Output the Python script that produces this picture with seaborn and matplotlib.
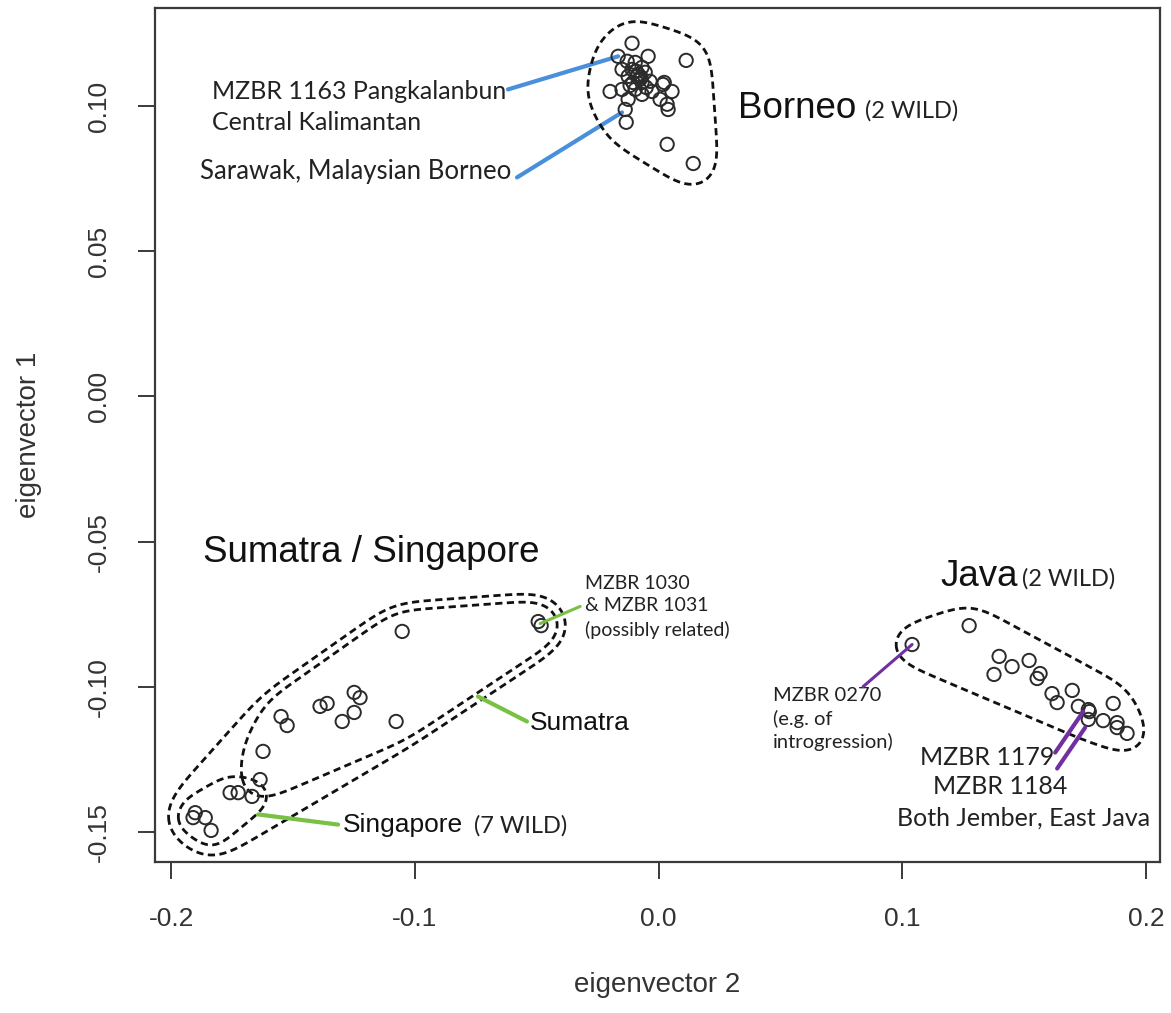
import numpy as np
import pandas as pd
import matplotlib
matplotlib.use("Agg")
import matplotlib.pyplot as plt
import seaborn as sns

# --- PCA scores (eigenvector 2 on x, eigenvector 1 on y) ---
borneo_ev2 = [-0.0109, -0.0166, -0.0129, -0.0096, -0.0043, 0.0113, -0.0150, -0.0109,
              -0.0068, -0.0125, -0.0088, -0.0055, -0.0105, -0.0068, -0.0035, -0.0199,
              -0.0150, -0.0096, -0.0027, 0.0023, 0.0018, 0.0055, -0.0125, -0.0068,
              0.0006, 0.0035, -0.0137, 0.0039, -0.0133, 0.0035, 0.0142, -0.0084,
              -0.0076, -0.0117, -0.0051, -0.0072, -0.0092]
borneo_ev1 = [0.1216, 0.1171, 0.1154, 0.1150, 0.1171, 0.1157, 0.1126, 0.1126,
              0.1133, 0.1102, 0.1102, 0.1116, 0.1081, 0.1081, 0.1085, 0.1050,
              0.1057, 0.1057, 0.1050, 0.1081, 0.1074, 0.1050, 0.1023, 0.1040,
              0.1023, 0.1006, 0.0988, 0.0988, 0.0944, 0.0868, 0.0802, 0.1109,
              0.1092, 0.1071, 0.1064, 0.1099, 0.1120]

sumatra_ev2 = [-0.1052, -0.1249, -0.1225, -0.1249, -0.1298, -0.1077, -0.1389,
               -0.1360, -0.1549, -0.1524, -0.1623, -0.1635, -0.0494, -0.0482]
sumatra_ev1 = [-0.0809, -0.1019, -0.1037, -0.1088, -0.1119, -0.1119, -0.1067,
               -0.1057, -0.1102, -0.1133, -0.1222, -0.1319, -0.0775, -0.0789]

singapore_ev2 = [-0.1758, -0.1725, -0.1668, -0.1901, -0.1910, -0.1860, -0.1836]
singapore_ev1 = [-0.1364, -0.1364, -0.1377, -0.1433, -0.1450, -0.1450, -0.1494]

java_ev2 = [0.1040, 0.1274, 0.1397, 0.1450, 0.1376, 0.1520, 0.1565, 0.1553, 0.1614,
            0.1635, 0.1697, 0.1722, 0.1763, 0.1767, 0.1763, 0.1824, 0.1865, 0.1881,
            0.1881, 0.1922]
java_ev1 = [-0.0854, -0.0789, -0.0895, -0.0930, -0.0957, -0.0909, -0.0954, -0.0971,
            -0.1023, -0.1054, -0.1012, -0.1067, -0.1078, -0.1085, -0.1112, -0.1116,
            -0.1057, -0.1123, -0.1140, -0.1160]

x_ticks = [-0.2, -0.1, 0.0, 0.1, 0.2]
x_ticklabels = ["-0.2", "-0.1", "0.0", "0.1", "0.2"]
y_ticks = [-0.15, -0.10, -0.05, 0.00, 0.05, 0.10]
y_ticklabels = ["-0.15", "-0.10", "-0.05", "0.00", "0.05", "0.10"]

df = pd.concat([
    pd.DataFrame({"ev2": borneo_ev2, "ev1": borneo_ev1, "group": "Borneo"}),
    pd.DataFrame({"ev2": sumatra_ev2, "ev1": sumatra_ev1, "group": "Sumatra"}),
    pd.DataFrame({"ev2": singapore_ev2, "ev1": singapore_ev1, "group": "Singapore"}),
    pd.DataFrame({"ev2": java_ev2, "ev1": java_ev1, "group": "Java"}),
], ignore_index=True)

sns.set_theme(style="white")
plt.rcParams["font.family"] = ["Liberation Sans", "DejaVu Sans"]

fig = plt.figure(figsize=(11.71, 10.13), dpi=100)
ax = fig.add_axes([0.1324, 0.149, 0.8582, 0.843])
ax.set_xlim(-0.2066, 0.2057)
ax.set_ylim(-0.1603, 0.1337)

sns.scatterplot(data=df, x="ev2", y="ev1", marker="o", s=92, color="#2b2b2b",
                edgecolor="#2b2b2b", linewidth=1.4, legend=False, ax=ax, zorder=3)
ax.collections[-1].set_facecolor("none")

# frame and axes in base-R style
for sp in ax.spines.values():
    sp.set_color("#3a3a3a")
    sp.set_linewidth(1.6)
ax.set_xticks(x_ticks)
ax.set_xticklabels(x_ticklabels)
ax.set_yticks(y_ticks)
ax.set_yticklabels(y_ticklabels, rotation=90, va="center")
ax.tick_params(axis="both", direction="out", length=12, width=1.4, color="#3a3a3a",
               labelsize=19, labelcolor="#333333", bottom=True, left=True)
ax.tick_params(axis="x", pad=20)
ax.tick_params(axis="y", pad=20)
ax.set_xlabel("eigenvector 2", fontsize=20, color="#333333", labelpad=30)
ax.set_ylabel("eigenvector 1", fontsize=20, color="#333333", labelpad=32)
ax.grid(False)


# dashed outlines: convex hull of a group, grown by a margin in screen pixels
# and rounded off with a circular moving average along the curve
def _hull(pts):
    pts = sorted(set(map(tuple, pts)))
    def cross(o, a, b):
        return (a[0] - o[0]) * (b[1] - o[1]) - (a[1] - o[1]) * (b[0] - o[0])
    lower, upper = [], []
    for p in pts:
        while len(lower) >= 2 and cross(lower[-2], lower[-1], p) <= 0:
            lower.pop()
        lower.append(p)
    for p in reversed(pts):
        while len(upper) >= 2 and cross(upper[-2], upper[-1], p) <= 0:
            upper.pop()
        upper.append(p)
    return np.array(lower[:-1] + upper[:-1])


def outline(xs, ys, margin_px, smooth_px=14):
    disp = ax.transData.transform(np.column_stack([xs, ys]))
    ang = np.linspace(0, 2 * np.pi, 90, endpoint=False)
    ring = np.column_stack([np.cos(ang), np.sin(ang)]) * margin_px
    cloud = (disp[:, None, :] + ring[None, :, :]).reshape(-1, 2)
    h = _hull(np.round(cloud, 3))
    closed = np.vstack([h, h[:1]])
    seglen = np.hypot(*np.diff(closed, axis=0).T)
    s = np.concatenate([[0], np.cumsum(seglen)])
    step = 1.0
    t = np.arange(0, s[-1], step)
    px = np.interp(t, s, closed[:, 0])
    py = np.interp(t, s, closed[:, 1])
    n = len(t)
    sigma = smooth_px / step
    k = np.arange(-int(3 * sigma), int(3 * sigma) + 1)
    w = np.exp(-0.5 * (k / sigma) ** 2)
    w /= w.sum()
    idx = (np.arange(n)[:, None] + k[None, :]) % n
    sx = (px[idx] * w).sum(axis=1)
    sy = (py[idx] * w).sum(axis=1)
    pts = np.column_stack([sx, sy])
    pts = np.vstack([pts, pts[:1]])
    d = ax.transData.inverted().transform(pts)
    ax.plot(d[:, 0], d[:, 1], color="#111111", lw=2.0,
            linestyle=(0, (2.6, 1.6)), zorder=2)


outline(borneo_ev2, borneo_ev1, 25, 16)
outline(java_ev2, java_ev1, 21, 16)
outline(sumatra_ev2, sumatra_ev1, 21, 16)
outline(singapore_ev2, singapore_ev1, 17, 10)
outline(sumatra_ev2 + singapore_ev2, sumatra_ev1 + singapore_ev1, 29, 18)

# region titles
big = dict(fontsize=26.5, color="#111111", va="center", ha="left")
ax.text(0.0326, 0.0990, "Borneo", **big)
ax.text(-0.1869, -0.0537, "Sumatra / Singapore", **big)
ax.text(0.1155, -0.0620, "Java", **big)

note = ["Lato", "DejaVu Sans"]
ax.text(0.0847, 0.0985, "(2 WILD)", fontsize=17, family=note, color="#222222", va="center")
ax.text(0.1490, -0.0628, "(2 WILD)", fontsize=17, family=note, color="#222222", va="center")

mid = dict(fontsize=19, color="#111111", va="center", ha="left")
ax.text(-0.0527, -0.1123, "Sumatra", **mid)
ax.text(-0.1294, -0.1477, "Singapore", **mid)
ax.text(-0.0757, -0.1477, "(7 WILD)", fontsize=17, family=note, color="#222222", va="center")

# sample call-outs
blue, green, purple = "#4a8fdb", "#79c143", "#7030a0"
seg = dict(arrowstyle="-", lw=3, shrinkA=0, shrinkB=0)

ax.text(-0.1832, 0.1050, "MZBR 1163 Pangkalanbun", fontsize=18, family=note,
        color="#222222", va="center")
ax.text(-0.1832, 0.0944, "Central Kalimantan", fontsize=18, family=note,
        color="#222222", va="center")
ax.text(-0.1881, 0.0775, "Sarawak, Malaysian Borneo", fontsize=18.5, family=note,
        color="#222222", va="center")
ax.annotate("", xy=(-0.0166, 0.1171), xytext=(-0.0618, 0.1057),
            arrowprops=dict(color=blue, **seg), zorder=1)
ax.annotate("", xy=(-0.0150, 0.0978), xytext=(-0.0581, 0.0754),
            arrowprops=dict(color=blue, **seg), zorder=1)

ax.text(-0.0302, -0.0724, "MZBR 1030\n& MZBR 1031\n(possibly related)", fontsize=14,
        family=note, color="#222222", va="center", linespacing=1.42)
ax.annotate("", xy=(-0.0486, -0.0782), xytext=(-0.0322, -0.0723),
            arrowprops=dict(color=green, **dict(seg, lw=2.2)), zorder=4)
ax.annotate("", xy=(-0.0741, -0.1033), xytext=(-0.0540, -0.1119),
            arrowprops=dict(color=green, **seg), zorder=4)
ax.annotate("", xy=(-0.1643, -0.1439), xytext=(-0.1315, -0.1474),
            arrowprops=dict(color=green, **seg), zorder=4)

ax.text(0.0470, -0.1112, "MZBR 0270\n(e.g. of\nintrogression)", fontsize=14.5,
        family=note, color="#222222", va="center", linespacing=1.36)
ax.annotate("", xy=(0.1040, -0.0854), xytext=(0.0839, -0.0999),
            arrowprops=dict(color=purple, **dict(seg, lw=2.2)), zorder=4)

ax.text(0.1073, -0.1243, "MZBR 1179", fontsize=18, family=note, color="#222222", va="center")
ax.text(0.1126, -0.1343, "MZBR 1184", fontsize=18, family=note, color="#222222", va="center")
ax.text(0.0978, -0.1450, "Both Jember, East Java", fontsize=18, family=note,
        color="#222222", va="center")
ax.annotate("", xy=(0.1742, -0.1085), xytext=(0.1627, -0.1226),
            arrowprops=dict(color=purple, **seg), zorder=4)
ax.annotate("", xy=(0.1750, -0.1140), xytext=(0.1635, -0.1281),
            arrowprops=dict(color=purple, **seg), zorder=4)

fig.savefig("out.png", dpi=100, facecolor="white")
